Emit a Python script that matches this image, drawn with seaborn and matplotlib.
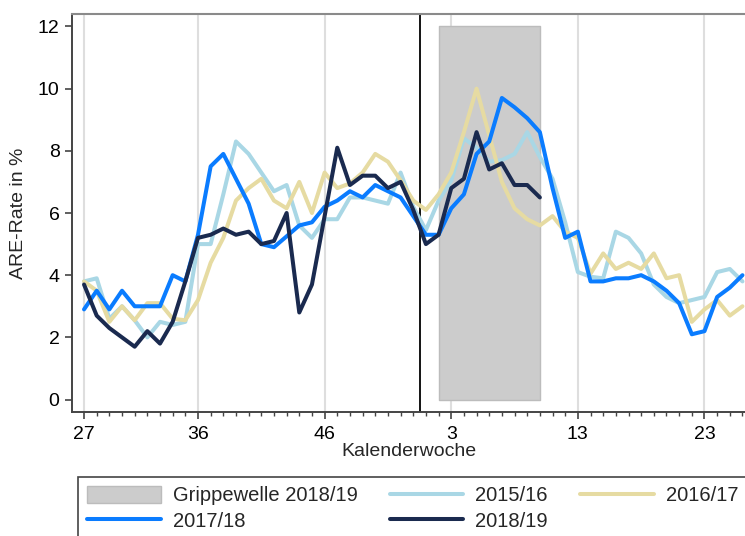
import numpy as np
import pandas as pd
import matplotlib.pyplot as plt
import seaborn as sns
from matplotlib.patches import Patch
from matplotlib.lines import Line2D

# Kalenderwochen 27..53 and 1..26
weeks = list(range(27, 54)) + list(range(1, 27))
tick_weeks = [27, 36, 46, 3, 13, 23]

# ARE-Rate in % per season
are_2015_16 = [3.8, 3.9, 2.6, 3.0, 2.55, 2.0, 2.5, 2.4, 2.5, 5.0,
               5.0, 6.6, 8.3, 7.9, 7.3, 6.7, 6.9, 5.6, 5.2, 5.8,
               5.8, 6.5, 6.5, 6.4, 6.3, 7.3, 6.2, 5.45, 6.4, 7.05,
               8.4, 8.1, 7.65, 7.7, 7.9, 8.6, 7.8, 7.1, 5.7, 4.1,
               3.95, 3.9, 5.4, 5.2, 4.7, 3.7, 3.3, 3.1, 3.2, 3.3,
               4.1, 4.2, 3.8]
are_2016_17 = [3.8, 3.5, 2.5, 3.0, 2.55, 3.1, 3.1, 2.6, 2.55, 3.2,
               4.4, 5.2, 6.4, 6.8, 7.1, 6.4, 6.15, 7.0, 6.0, 7.3,
               6.8, 6.95, 7.3, 7.9, 7.65, 7.05, 6.4, 6.1, 6.6, 7.3,
               8.6, 10.0, 8.5, 7.0, 6.15, 5.8, 5.6, 5.9, 5.4, 5.2,
               4.05, 4.7, 4.2, 4.4, 4.2, 4.7, 3.9, 4.0, 2.5, 2.9,
               3.2, 2.7, 3.0]
are_2017_18 = [2.9, 3.5, 2.9, 3.5, 3.0, 3.0, 3.0, 4.0, 3.8, 5.3,
               7.5, 7.9, 7.1, 6.3, 5.0, 4.9, 5.25, 5.6, 5.7, 6.2,
               6.4, 6.7, 6.5, 6.9, 6.7, 6.5, 5.9, 5.3, 5.3, 6.15,
               6.6, 7.9, 8.3, 9.7, 9.4, 9.05, 8.6, 6.8, 5.2, 5.4,
               3.8, 3.8, 3.9, 3.9, 4.0, 3.8, 3.5, 3.1, 2.1, 2.2,
               3.3, 3.6, 4.0]
are_2018_19 = [3.7, 2.7, 2.3, 2.0, 1.7, 2.2, 1.8, 2.5, 3.8, 5.2,
               5.3, 5.5, 5.3, 5.4, 5.0, 5.1, 6.0, 2.8, 3.7, 5.9,
               8.1, 6.9, 7.2, 7.2, 6.8, 7.0, 6.1, 5.0, 5.3, 6.8,
               7.1, 8.6, 7.4, 7.6, 6.9, 6.9, 6.5]

seasons = ["2015/16", "2016/17", "2017/18", "2018/19"]
season_values = [are_2015_16, are_2016_17, are_2017_18, are_2018_19]
season_colors = {"2015/16": "#a9d7e5", "2016/17": "#e6dba2",
                 "2017/18": "#0a7cff", "2018/19": "#1a2a4f"}

# Grippewelle 2018/19: KW 2 bis KW 10
flu_start, flu_end = 2, 10

frames = []
for name, vals in zip(seasons, season_values):
    frames.append(pd.DataFrame({"pos": np.arange(len(vals)), "rate": vals, "season": name}))
df = pd.concat(frames, ignore_index=True)

sns.set_theme(style="white")
plt.rcParams["font.family"] = ["Liberation Sans", "DejaVu Sans"]
plt.rcParams["font.size"] = 14

fig = plt.figure(figsize=(7.45, 5.36), dpi=100)
ax = fig.add_axes([72 / 745, 1 - 412 / 536, 1 - 72 / 745, (412 - 14) / 536])

# flu wave box and year change line
x0, x1 = weeks.index(flu_start), weeks.index(flu_end)
ax.fill_between([x0, x1], 0, 12, facecolor="#cccccc", edgecolor="#bcbcbc", lw=1, zorder=1)
ax.axvline(weeks.index(1) - 0.5, color="black", lw=1.3, zorder=2)

sns.lineplot(data=df, x="pos", y="rate", hue="season", palette=season_colors,
             hue_order=seasons, linewidth=2.9, estimator=None, sort=False,
             legend=False, ax=ax, zorder=3)

ax.set_xlim(-0.95, 52.2)
ax.set_ylim(-0.4, 12.4)
ax.set_xticks([weeks.index(w) for w in tick_weeks])
ax.set_xticklabels([str(w) for w in tick_weeks])
ax.set_xticks(np.arange(len(weeks)), minor=True)
ax.set_yticks(range(0, 13, 2))
ax.tick_params(axis="both", which="major", labelsize=14, length=5, width=1.2,
               color="#444444", labelcolor="black")
ax.tick_params(axis="x", which="major", bottom=True, pad=5)
ax.tick_params(axis="y", which="major", left=True, pad=4)
ax.tick_params(axis="x", which="minor", bottom=True, length=3, width=1, color="#444444")
ax.xaxis.grid(True, which="major", color="#dedede", lw=1.5, zorder=0)
ax.yaxis.grid(False)
ax.set_axisbelow(True)

for side in ["left", "bottom"]:
    ax.spines[side].set_color("#444444")
    ax.spines[side].set_linewidth(1.4)
ax.spines["top"].set_color("#8a8a8a")
ax.spines["top"].set_linewidth(1.5)
ax.spines["right"].set_visible(False)

ax.set_xlabel("Kalenderwoche", fontsize=14, labelpad=0)
ax.set_ylabel("ARE-Rate in %", fontsize=14, labelpad=8)

handles = [
    Patch(facecolor="#cccccc", edgecolor="#bcbcbc", label="Grippewelle 2018/19"),
    Line2D([], [], color=season_colors["2017/18"], lw=2.9, label="2017/18"),
    Line2D([], [], color=season_colors["2015/16"], lw=2.9, label="2015/16"),
    Line2D([], [], color=season_colors["2018/19"], lw=2.9, label="2018/19"),
    Line2D([], [], color=season_colors["2016/17"], lw=2.9, label="2016/17"),
]
leg = fig.legend(handles=handles, ncol=3, loc="upper left",
                 bbox_to_anchor=(78 / 745, 1 - 477 / 536), borderaxespad=0,
                 fontsize=14.5, frameon=True, fancybox=False, framealpha=1,
                 handlelength=3.65, handleheight=0.9, handletextpad=0.6,
                 columnspacing=1.6, labelspacing=0.3, borderpad=0.45)
leg.get_frame().set_edgecolor("#444444")
leg.get_frame().set_linewidth(1.2)

fig.savefig("out.png", dpi=100)
